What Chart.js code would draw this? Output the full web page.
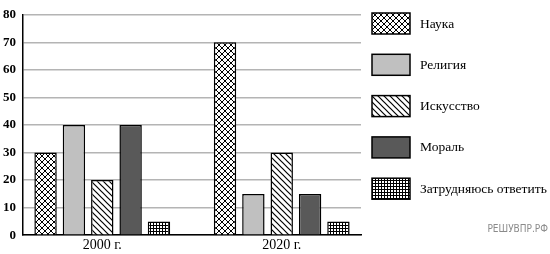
<!DOCTYPE html>
<html>
<head>
<meta charset="utf-8">
<script src="https://cdn.jsdelivr.net/npm/chart.js@4/dist/chart.umd.min.js"></script>
<style>
  html, body { margin: 0; padding: 0; background: #fff; }
  #wrap { position: relative; width: 550px; height: 254px; }
</style>
</head>
<body>
<div id="wrap"><canvas id="chart"></canvas></div>
<script>
// data
const years = ['2000 г.', '2020 г.'];
const seriesNames = ['Наука', 'Религия', 'Искусство', 'Мораль', 'Затрудняюсь ответить'];
const nauka = [30, 70];
const religiya = [40, 15];
const iskusstvo = [20, 30];
const moral = [40, 15];
const zatrudnyayus = [5, 5];
const yMin = 0, yMax = 80, yStep = 10;
const watermark = 'РЕШУВПР.РФ';

// fills
function makePattern(size, draw) {
    const c = document.createElement('canvas');
    c.width = size; c.height = size;
    const g = c.getContext('2d');
    g.fillStyle = '#fff';
    g.fillRect(0, 0, size, size);
    g.strokeStyle = '#000';
    g.fillStyle = '#000';
    draw(g, size);
    return g.createPattern(c, 'repeat');
}
const ctx = document.getElementById('chart').getContext('2d');
const crossHatch = makePattern(6, (g, s) => {
    g.lineWidth = 1;
    g.beginPath();
    g.moveTo(-1, -1); g.lineTo(s + 1, s + 1);
    g.moveTo(-1, s + 1); g.lineTo(s + 1, -1);
    g.stroke();
});
const diagonal = makePattern(6, (g, s) => {
    g.lineWidth = 1.2;
    g.beginPath();
    g.moveTo(-1, -1); g.lineTo(s + 1, s + 1);
    g.moveTo(-1, s - 1); g.lineTo(1, s + 1);
    g.moveTo(s - 1, -1); g.lineTo(s + 1, 1);
    g.stroke();
});
const smallGrid = makePattern(3, (g, s) => {
    g.fillRect(0, 0, s, 1);
    g.fillRect(0, 0, 1, s);
});
const fills = [crossHatch, '#c0c0c0', diagonal, '#595959', smallGrid];

const toPoints = arr => arr.map((v, i) => ({ x: i, y: v }));
const values = [nauka, religiya, iskusstvo, moral, zatrudnyayus];

const datasets = seriesNames.map((name, k) => ({
    label: name,
    data: toPoints(values[k]),
    backgroundColor: fills[k],
    borderColor: '#000',
    borderWidth: 1.5,
    categoryPercentage: 0.79,
    barPercentage: 0.79,
}));

const serif = 'Liberation Serif, "Times New Roman", serif';

// legend drawn at the right of the plot, one box per dataset
const sideLegend = {
    id: 'sideLegend',
    afterDraw(chart) {
        const c = chart.ctx;
        const x0 = chart.chartArea.right + 11;
        c.save();
        chart.data.datasets.forEach((ds, i) => {
            const top = 13 + i * 41.3;
            c.fillStyle = ds.backgroundColor;
            c.fillRect(x0, top, 38, 21);
            c.lineWidth = 1.5;
            c.strokeStyle = '#000';
            c.strokeRect(x0, top, 38, 21);
            c.fillStyle = '#000';
            c.font = '13.5px ' + serif;
            c.textBaseline = 'middle';
            c.textAlign = 'left';
            c.fillText(ds.label, x0 + 48, top + 11);
        });
        c.font = '10px "Liberation Sans Narrow", "DejaVu Sans Condensed", sans-serif';
        c.fillStyle = '#8a8a8a';
        c.textAlign = 'right';
        c.textBaseline = 'alphabetic';
        c.fillText(watermark, 548, 232);
        c.restore();
    }
};

new Chart(ctx, {
    type: 'bar',
    data: { datasets },
    plugins: [sideLegend],
    options: {
        responsive: true,
        maintainAspectRatio: false,
        animation: false,
        layout: { padding: { left: -4, right: 189, top: -5, bottom: -2 } },
        plugins: {
            legend: { display: false },
            tooltip: { enabled: false },
        },
        scales: {
            x: {
                type: 'linear',
                offset: false,
                min: -0.4417,
                max: 1.4417,
                afterBuildTicks: scale => { scale.ticks = years.map((_, i) => ({ value: i })); },
                ticks: {
                    callback: v => years[v] ?? '',
                    color: '#000',
                    font: { family: serif, size: 14 },
                    padding: 2,
                    maxRotation: 0,
                },
                grid: { display: false, drawTicks: false, offset: false },
                border: { display: true, color: '#000', width: 1.5 },
            },
            y: {
                min: yMin,
                max: yMax,
                ticks: {
                    stepSize: yStep,
                    color: '#000',
                    font: { family: serif, size: 13, weight: 'bold' },
                    padding: 7,
                },
                grid: { color: '#b4b4b4', lineWidth: 1.5, drawTicks: false },
                border: { display: true, color: '#000', width: 1.5 },
            },
        },
    },
});
</script>
</body>
</html>
